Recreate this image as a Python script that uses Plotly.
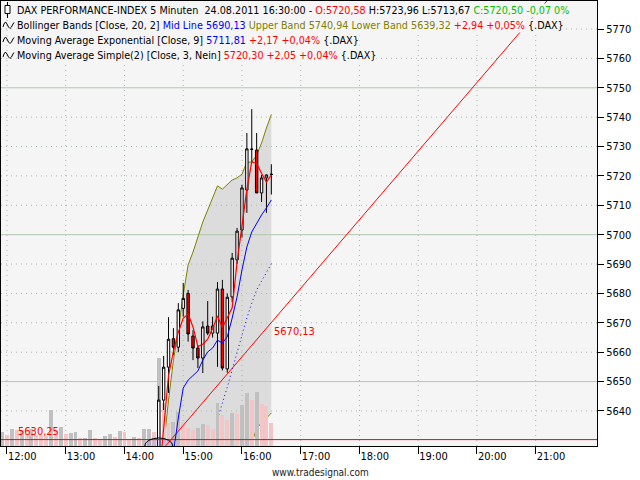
import plotly.graph_objects as go

DAY = "2011-08-24 "

# ---------------- data ----------------
candle_times = ["14:35", "14:40", "14:45", "14:50", "14:55", "15:00", "15:05", "15:10",
                "15:15", "15:20", "15:25", "15:30", "15:35", "15:40", "15:45", "15:50",
                "15:55", "16:00", "16:05", "16:10", "16:15", "16:20", "16:25", "16:30"]
opens = [5622.0, 5643.7, 5654.9, 5664.6, 5661.7, 5674.9, 5680.0, 5665.5,
         5661.4, 5658.0, 5668.9, 5666.5, 5666.5, 5681.5, 5654.3, 5678.8,
         5691.4, 5701.6, 5715.2, 5729.0, 5728.8, 5714.2, 5719.3, 5720.58]
highs = [5648.5, 5658.7, 5671.9, 5668.2, 5676.7, 5683.6, 5681.2, 5667.5,
         5662.4, 5670.5, 5677.4, 5672.1, 5683.9, 5684.6, 5680.0, 5693.8,
         5702.3, 5717.0, 5734.6, 5742.7, 5734.6, 5720.3, 5720.5, 5723.96]
lows = [5619.0, 5640.3, 5646.1, 5659.0, 5660.0, 5672.1, 5663.6, 5657.3,
        5654.6, 5652.9, 5665.8, 5665.0, 5655.0, 5653.8, 5653.0, 5677.0,
        5690.0, 5699.0, 5707.4, 5724.4, 5714.2, 5711.1, 5707.4, 5713.67]
closes = [5643.7, 5654.9, 5664.4, 5661.7, 5674.4, 5678.3, 5666.2, 5661.4,
          5658.0, 5668.6, 5666.5, 5668.9, 5681.5, 5654.6, 5678.7, 5692.0,
          5701.2, 5715.9, 5729.2, 5729.1, 5714.2, 5719.3, 5720.3, 5720.50]

sma3 = [5616.0, 5633.0, 5652.0, 5660.3, 5666.8, 5671.5, 5673.0, 5668.6,
        5661.9, 5662.7, 5664.4, 5668.0, 5672.3, 5668.3, 5671.6, 5675.1,
        5690.6, 5703.0, 5715.4, 5724.8, 5724.2, 5720.9, 5717.9, 5720.30]
ema9 = [5605.0, 5612.0, 5620.0, 5626.0, 5637.6, 5647.8, 5650.5, 5652.2,
        5653.6, 5657.3, 5660.1, 5661.4, 5664.1, 5663.1, 5665.2, 5671.6,
        5678.8, 5688.0, 5695.8, 5700.9, 5704.0, 5706.7, 5709.1, 5711.81]
bb_upper = [5612.0, 5628.4, 5643.7, 5657.3, 5667.5, 5679.5, 5689.7, 5694.1,
            5699.2, 5704.3, 5708.4, 5712.5, 5716.6, 5715.5, 5717.2, 5718.6,
            5719.3, 5720.6, 5724.7, 5724.7, 5727.1, 5731.2, 5736.3, 5740.94]
bb_lower = [5548.0, 5546.0, 5545.0, 5545.0, 5546.0, 5548.0, 5550.0, 5551.0,
            5552.0, 5553.0, 5554.0, 5555.0, 5558.0, 5569.0, 5579.0, 5589.0,
            5600.0, 5611.0, 5619.0, 5629.0, 5634.0, 5636.0, 5637.5, 5639.32]
bb_mid = [None, None, None, None, None, None, None, None,
          None, None, None, None, 5637.3, 5642.4, 5648.1, 5654.0,
          5660.0, 5665.8, 5671.6, 5676.7, 5681.2, 5684.2, 5687.3, 5690.13]

vol_times = ["11:55", "12:00", "12:05", "12:10", "12:15", "12:20", "12:25", "12:30",
             "12:35", "12:40", "12:45", "12:50", "12:55", "13:00", "13:05", "13:10",
             "13:15", "13:20", "13:25", "13:30", "13:35", "13:40", "13:45", "13:50",
             "13:55", "14:00", "14:05", "14:10", "14:15", "14:20", "14:25", "14:30"] + candle_times
volumes = [140, 110, 170, 160, 165, 125, 170, 115, 110, 100, 360, 150, 190, 120, 135, 140,
           80, 80, 160, 80, 70, 100, 120, 95, 150, 140, 60, 90, 85, 170, 170, 140,
           880, 430, 230, 240, 340, 240, 180, 160, 180, 220, 215, 170, 430, 310, 260, 330,
           325, 410, 530, 460, 540, 420, 400, 230]

trend_times = ["14:40", "21:20"]
trend_values = [5627.3, 5782.9]
support_level = 5630.25

price_ticks = [5640, 5650, 5660, 5670, 5680, 5690, 5700, 5710, 5720, 5730, 5740, 5750, 5760, 5770]
major_levels = [5650, 5700, 5750]
hour_ticks = ["12:00", "13:00", "14:00", "15:00", "16:00", "17:00", "18:00", "19:00", "20:00", "21:00"]

# ---------------- style ----------------
PLOT_BG = "#f5f5f5"
FILL = "#dcdcdc"
RED = "#ff0000"
BLUE = "#0000ff"
OLIVE = "#808000"
GREEN = "#00c000"
VOL_UP = "#c0c0c0"
VOL_DN = "#f2c6c6"
GRID = "#a8b8a8"
GRID_MAJOR = "#b0c8b0"
FONT = "DejaVu Sans Condensed, DejaVu Sans, sans-serif"

W, H = 640, 480
ML, MR, MT, MB = 1, 43, 1, 34
X_RANGE = [DAY + "11:53:54", DAY + "22:02:36"]
Y_RANGE = [5628.07, 5779.53]

ct = [DAY + t for t in candle_times]
vt = [DAY + t for t in vol_times]

fig = go.Figure()

# Bollinger fill (base axis y)
fig.add_trace(go.Scatter(x=ct, y=bb_lower, mode="lines", line=dict(width=0, color=FILL),
                         hoverinfo="skip", showlegend=False))
fig.add_trace(go.Scatter(x=ct, y=bb_upper, mode="lines", line=dict(width=0, color=FILL),
                         fill="tonexty", fillcolor=FILL, hoverinfo="skip", showlegend=False))

# grid as traces so they are drawn over the band fill
hx, hy = [], []
for v in price_ticks:
    if v in major_levels:
        continue
    hx += [X_RANGE[0], X_RANGE[1], None]
    hy += [v, v, None]
fig.add_trace(go.Scatter(x=hx, y=hy, mode="lines", line=dict(color=GRID, width=1, dash="1px,4px"),
                         hoverinfo="skip", showlegend=False))
vx, vy = [], []
for t in hour_ticks:
    vx += [DAY + t, DAY + t, None]
    vy += [Y_RANGE[0], Y_RANGE[1], None]
fig.add_trace(go.Scatter(x=vx, y=vy, mode="lines", line=dict(color=GRID, width=1, dash="1px,4px"),
                         hoverinfo="skip", showlegend=False))
mx, my = [], []
for v in major_levels:
    mx += [X_RANGE[0], X_RANGE[1], None]
    my += [v, v, None]
fig.add_trace(go.Scatter(x=mx, y=my, mode="lines", line=dict(color=GRID_MAJOR, width=1),
                         hoverinfo="skip", showlegend=False))

# Bollinger lines
fig.add_trace(go.Scatter(x=ct, y=bb_upper, mode="lines", line=dict(color=OLIVE, width=1), showlegend=False))
fig.add_trace(go.Scatter(x=ct, y=bb_lower, mode="lines", line=dict(color=OLIVE, width=1), showlegend=False))
fig.add_trace(go.Scatter(x=ct, y=bb_mid, mode="lines", line=dict(color=BLUE, width=1, dash="1px,3px"),
                         showlegend=False))

# volume (y2)
vol_colors = [VOL_UP if (i == 0 or v >= volumes[i - 1]) else VOL_DN for i, v in enumerate(volumes)]
fig.add_trace(go.Bar(x=vt, y=volumes, marker=dict(color=vol_colors, line=dict(width=0)),
                     width=4 * 60 * 1000, yaxis="y2", showlegend=False))

# price overlays (y3)
fig.add_trace(go.Scatter(x=X_RANGE, y=[support_level, support_level], mode="lines",
                         line=dict(color=RED, width=1), yaxis="y3", showlegend=False))
fig.add_trace(go.Scatter(x=[DAY + t for t in trend_times], y=trend_values, mode="lines",
                         line=dict(color=RED, width=1), yaxis="y3", showlegend=False))
fig.add_trace(go.Scatter(x=ct, y=ema9, mode="lines", line=dict(color=BLUE, width=1),
                         yaxis="y3", showlegend=False))
fig.add_trace(go.Scatter(x=ct, y=sma3, mode="lines", line=dict(color=RED, width=1.2),
                         yaxis="y3", showlegend=False))
fig.add_trace(go.Candlestick(x=ct, open=opens, high=highs, low=lows, close=closes, yaxis="y3",
                             increasing=dict(line=dict(color="black", width=1), fillcolor="white"),
                             decreasing=dict(line=dict(color="black", width=1), fillcolor=RED),
                             whiskerwidth=0, showlegend=False))

# ---------------- annotations ----------------
def span(t, c):
    return f'<span style="color:{c}">{t}</span>'

header = [
    "DAX PERFORMANCE-INDEX 5 Minuten\u00a0\u00a024.08.2011 16:30:00 - " + span("O:5720,58", RED)
    + " H:5723,96 L:5713,67 " + span("C:5720,50 -0,07 0%", GREEN),
    "Bollinger Bands [Close, 20, 2] " + span("Mid Line 5690,13", BLUE) + " "
    + span("Upper Band 5740,94 Lower Band 5639,32", OLIVE) + " " + span("+2,94 +0,05%", RED) + " {.DAX}",
    "Moving Average Exponential [Close, 9] " + span("5711,81", BLUE) + " " + span("+2,17 +0,04%", RED) + " {.DAX}",
    "Moving Average Simple(2) [Close, 3, Nein] " + span("5720,30 +2,05 +0,04%", RED) + " {.DAX}",
]
line_centers = [10, 25, 40, 55]
annotations = []
for i, (txt, yc) in enumerate(zip(header, line_centers)):
    annotations.append(dict(text=txt, xref="paper", yref="paper", x=0, y=1, xanchor="left", yanchor="middle",
                            xshift=15, yshift=-(yc - MT), showarrow=False, bgcolor=PLOT_BG, borderpad=0,
                            font=dict(family=FONT, size=10.7, color="black")))

def px_x(p):
    return (p - ML) / (W - ML - MR)

def px_y(p):
    return 1 - (p - MT) / (H - MT - MB)

shapes = [
    # candle icon of the first header line
    dict(type="line", xref="paper", yref="paper", x0=px_x(7.5), x1=px_x(7.5), y0=px_y(2), y1=px_y(18),
         line=dict(color="black", width=1)),
    dict(type="rect", xref="paper", yref="paper", x0=px_x(5), x1=px_x(10), y0=px_y(5.5), y1=px_y(13.5),
         line=dict(color="black", width=1), fillcolor="white"),
    # arc drawing at the bottom
    dict(type="circle", xref="x", yref="y", x0=DAY + "14:20:40", x1=DAY + "14:49:20",
         y0=5625.35, y1=5630.8, line=dict(color="black", width=1),
         fillcolor="rgba(120,100,220,0.2)", layer="above"),
]

# wave icons of the indicator header lines (drawn as small paths)
for yc in line_centers[1:]:
    pts = [(3, yc + 2), (4, yc - 1), (5.5, yc - 3), (7, yc - 1), (8.5, yc + 2), (10, yc + 3.5),
           (11.5, yc + 2), (13, yc - 1), (14, yc - 2.5)]
    path = "M " + " L ".join(f"{px_x(x):.5f},{px_y(y):.5f}" for x, y in pts)
    shapes.append(dict(type="path", xref="paper", yref="paper", path=path,
                       line=dict(color="black", width=1)))

annotations.append(dict(text="5630,25", xref="paper", yref="y", x=0, y=support_level, xanchor="left",
                        yanchor="bottom", xshift=15, yshift=0, showarrow=False,
                        font=dict(family=FONT, size=11, color=RED)))
annotations.append(dict(text="5670,13", xref="x", yref="y", x=DAY + "16:30", y=5670.13, xanchor="left",
                        yanchor="top", xshift=1, yshift=-1, showarrow=False,
                        font=dict(family=FONT, size=11, color=RED)))
annotations.append(dict(text="www.tradesignal.com", xref="paper", yref="paper",
                        x=(320 - ML) / (W - ML - MR), y=1 - (472 - MT) / (H - MT - MB),
                        xanchor="center", yanchor="middle", showarrow=False,
                        font=dict(family=FONT, size=10, color="#222222")))

fig.update_layout(
    width=W, height=H, autosize=False,
    margin=dict(l=ML, r=MR, t=MT, b=MB, pad=0),
    paper_bgcolor="white", plot_bgcolor=PLOT_BG,
    font=dict(family=FONT, size=11, color="black"),
    showlegend=False, bargap=0,
    xaxis=dict(type="date", range=X_RANGE, showgrid=False, zeroline=False,
               tickvals=[DAY + t for t in hour_ticks], ticktext=hour_ticks,
               ticks="outside", ticklen=7, tickcolor="black", ticklabelposition="outside right",
               showline=True, linecolor="black", linewidth=1, mirror=True,
               rangeslider=dict(visible=False), fixedrange=True),
    yaxis=dict(range=Y_RANGE, side="right", showgrid=False, zeroline=False,
               tickvals=price_ticks, ticktext=[str(v) for v in price_ticks],
               ticks="outside", ticklen=6, tickcolor="black",
               showline=True, linecolor="black", linewidth=1, mirror=True),
    yaxis2=dict(range=[0, 4450], overlaying="y", visible=False, showgrid=False),
    yaxis3=dict(range=Y_RANGE, overlaying="y", visible=False, showgrid=False),
    annotations=annotations,
    shapes=shapes,
)

fig.write_html("out.html", config={"displayModeBar": False},
               post_script="document.body.style.margin='0';document.body.style.padding='0';")
